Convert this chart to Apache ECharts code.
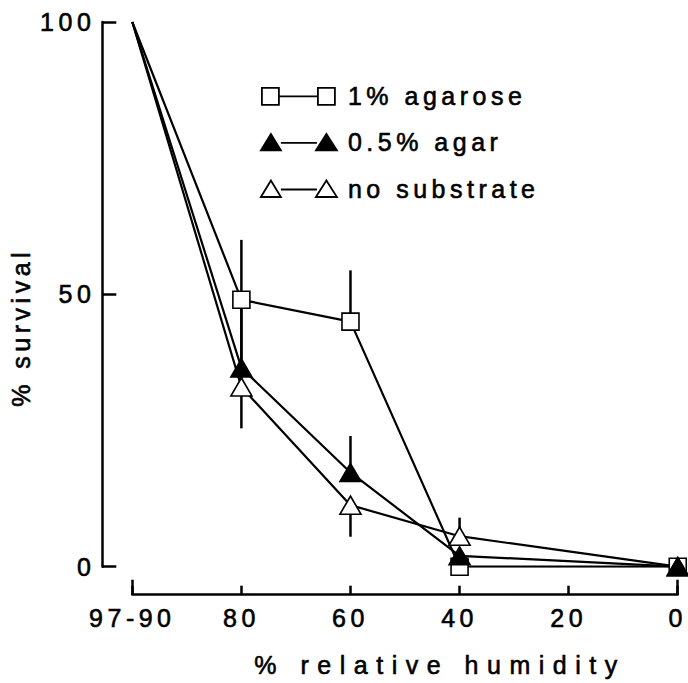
<!DOCTYPE html>
<html>
<head>
<meta charset="utf-8">
<script src="https://cdn.jsdelivr.net/npm/echarts@6/dist/echarts.min.js"></script>
<style>
html,body{margin:0;padding:0;background:#fff;}
#chart{width:688px;height:683px;}
#chart text{letter-spacing:4.5px;}
#chart text[style*="Arial"]{letter-spacing:8.5px;}
</style>
</head>
<body>
<div id="chart"></div>
<script>
// ---- data ----
const humidity = [100, 80, 60, 40, 0];
const tickValues = [100, 80, 60, 40, 20, 0];
const tickLabels = ['97-90', '80', '60', '40', '20', '0'];
const agarose = [100, 49, 45, 0, 0];
const agar = [100, 36.5, 17.3, 2, 0];
const noSubstrate = [100, 33, 11.3, 5.6, 0];
// error bar ends (low, high) per point; null = none visible
const agaroseLow  = [null, 38, null, null, null];
const agaroseHigh = [null, 60, 54.4, null, null];
const agarLow     = [null, 25.4, null, null, null];
const agarHigh    = [null, 47.4, 24, null, null];
const noSubLow    = [null, null, 5.5, null, null];
const noSubHigh   = [null, null, null, 9, null];
const seriesNames = ['1% agarose', '0.5% agar', 'no substrate'];

const FONT = 'Liberation Sans';
const TITLE_FONT = 'Liberation Sans, Arial';
const chart = echarts.init(document.getElementById('chart'), null, {renderer: 'svg'});

function pairs(ys) { return humidity.map((x, i) => [x, ys[i]]); }
function markerPts(ys) { return humidity.map((x, i) => [x, ys[i]]).filter(p => p[0] !== 100); }
function errData(ys, lo, hi) {
  const out = [];
  humidity.forEach((x, i) => {
    if (lo[i] != null || hi[i] != null) {
      out.push([x, lo[i] != null ? lo[i] : ys[i], hi[i] != null ? hi[i] : ys[i]]);
    }
  });
  return out;
}
function errSeries(name, data) {
  return {
    name: name, type: 'custom', z: 3, silent: true,
    xAxisIndex: 0, yAxisIndex: 0,
    data: data,
    encode: {x: 0, y: [1, 2]},
    renderItem: function (params, api) {
      const a = api.coord([api.value(0), api.value(1)]);
      const b = api.coord([api.value(0), api.value(2)]);
      return {type: 'line', shape: {x1: a[0], y1: a[1], x2: b[0], y2: b[1]},
              style: {stroke: '#000', lineWidth: 2.5}};
    }
  };
}
function lineSeries(name, ys) {
  return {name: name, type: 'line', z: 2, data: pairs(ys), symbol: 'none',
          lineStyle: {color: '#000', width: 2.2}, silent: true, animation: false};
}
function markSeries(name, ys, symbol, size, fill) {
  return {name: name, type: 'scatter', z: 5, data: markerPts(ys), symbol: symbol, symbolSize: size,
          itemStyle: {color: fill, borderColor: '#000', borderWidth: 1.6, opacity: 1}, silent: true, animation: false};
}

const sqIcon = 'path://M0,0 M82,18 M1,1 L18,1 L18,18 L1,18 Z M18,9.5 L57,9.5 M57,1 L74,1 L74,18 L57,18 Z';
const triIcon = 'path://M0,0 M82,18 M0,17 L10,0.5 L20,17 Z M20,9.5 L56,9.5 M55,17 L65.5,0.5 L76,17 Z';

const txt = {fontFamily: FONT, fontSize: 25, color: '#000', textBorderColor: '#000', textBorderWidth: 0.6};

const option = {
  backgroundColor: '#fff',
  animation: false,
  textStyle: {fontFamily: FONT, color: '#000'},
  grid: {left: 131, right: 10, top: 22, bottom: 111},
  legend: {
    orient: 'vertical', left: 255, top: 78, itemGap: 21, selectedMode: false,
    itemWidth: 82, itemHeight: 18, symbolKeepAspect: false,
    textStyle: txt,
    data: [
      {name: seriesNames[0], icon: sqIcon, itemStyle: {color: '#fff', borderColor: '#000', borderWidth: 1.8}},
      {name: seriesNames[1], icon: triIcon, itemStyle: {color: '#000', borderColor: '#000', borderWidth: 1.8}},
      {name: seriesNames[2], icon: triIcon, itemStyle: {color: '#fff', borderColor: '#000', borderWidth: 1.8}}
    ]
  },
  xAxis: [{
    type: 'value', min: 0, max: 100, interval: 20, inverse: true,
    position: 'bottom', offset: 28,
    name: '% relative humidity', nameLocation: 'middle', nameGap: 58,
    nameTextStyle: Object.assign({}, txt, {fontFamily: TITLE_FONT, padding: [0, 0, 0, 70]}),
    axisLine: {show: true, onZero: false, lineStyle: {color: '#000', width: 2.5}},
    axisTick: {show: true, inside: true, length: 9, lineStyle: {color: '#000', width: 2.5}},
    axisLabel: Object.assign({margin: 11, formatter: v => tickLabels[tickValues.indexOf(v)]}, txt),
    splitLine: {show: false}
  }, {
    type: 'value', min: 0, max: 100, interval: 100, inverse: true,
    position: 'bottom', offset: 28,
    axisLine: {show: false, onZero: false},
    axisTick: {show: true, inside: true, length: 15, lineStyle: {color: '#000', width: 2.5}},
    axisLabel: {show: false}, splitLine: {show: false}
  }],
  yAxis: [{
    type: 'value', min: 0, max: 100, interval: 50,
    position: 'left', offset: 30,
    name: '% survival', nameLocation: 'middle', nameGap: 69, nameRotate: 90,
    nameTextStyle: Object.assign({}, txt, {padding: [0, 66, 0, 0]}),
    axisLine: {show: true, onZero: false, lineStyle: {color: '#000', width: 2.5}},
    axisTick: {show: true, inside: true, length: 14, lineStyle: {color: '#000', width: 2.5}},
    axisLabel: Object.assign({margin: 7}, txt),
    splitLine: {show: false}
  }],
  series: [
    lineSeries(seriesNames[0], agarose),
    lineSeries(seriesNames[1], agar),
    lineSeries(seriesNames[2], noSubstrate),
    errSeries(seriesNames[0], errData(agarose, agaroseLow, agaroseHigh)),
    errSeries(seriesNames[1], errData(agar, agarLow, agarHigh)),
    errSeries(seriesNames[2], errData(noSubstrate, noSubLow, noSubHigh)),
    markSeries(seriesNames[0], agarose, 'rect', 17, '#fff'),
    markSeries(seriesNames[2], noSubstrate, 'triangle', [21, 18], '#fff'),
    markSeries(seriesNames[1], agar, 'triangle', [21, 18], '#000')
  ]
};
chart.setOption(option);
</script>
</body>
</html>
